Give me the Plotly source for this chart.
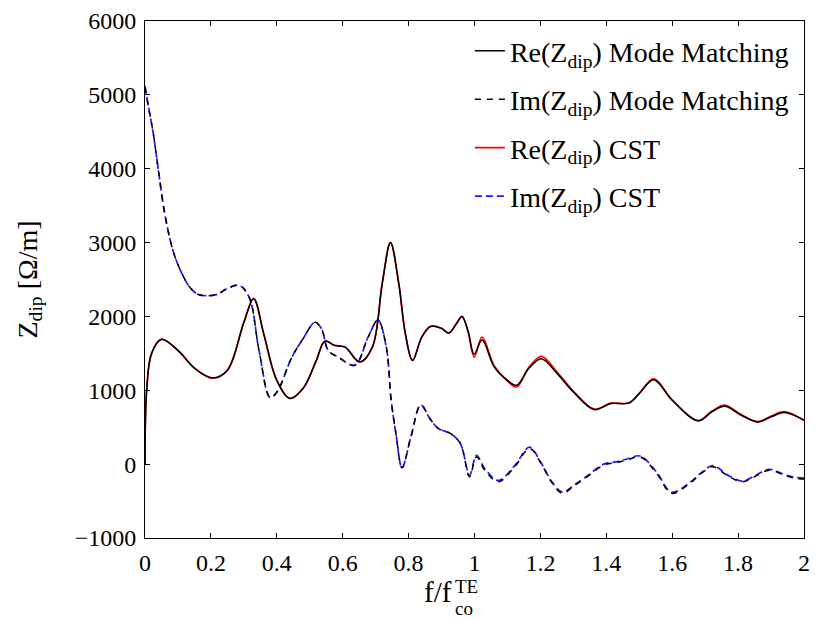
import plotly.graph_objects as go

# ---- data ----
x_re_mm = [0, 0.005, 0.02, 0.05, 0.1, 0.15, 0.205, 0.25, 0.3, 0.33, 0.36, 0.4, 0.44, 0.48, 0.52,
           0.546, 0.575, 0.607, 0.652, 0.69, 0.72, 0.745, 0.77, 0.79, 0.812, 0.84, 0.867, 0.9,
           0.922, 0.945, 0.962, 0.98, 0.999, 1.023, 1.06, 1.1, 1.128, 1.165, 1.203, 1.25, 1.3,
           1.363, 1.414, 1.469, 1.5, 1.544, 1.6, 1.679, 1.72, 1.759, 1.81, 1.86, 1.9, 1.94, 2.0]
y_re_mm = [0, 1000, 1500, 1690, 1540, 1300, 1166, 1270, 1920, 2240, 1770, 1135, 890, 1027, 1405,
           1666, 1608, 1585, 1383, 1585, 2446, 3000, 2450, 1770, 1405, 1720, 1865, 1838,
           1775, 1900, 2000, 1810, 1490, 1680, 1315, 1135, 1068, 1297, 1428, 1230, 977,
           739, 820, 829, 955, 1144, 865, 586, 707, 784, 662, 572, 640, 698, 595]

x_re_cst = x_re_mm
y_re_cst = [0, 1000, 1500, 1690, 1540, 1300, 1166, 1270, 1920, 2240, 1770, 1135, 890, 1027, 1405,
            1666, 1608, 1585, 1383, 1585, 2446, 3000, 2450, 1770, 1405, 1720, 1865, 1838,
            1775, 1900, 2000, 1800, 1450, 1720, 1330, 1125, 1045, 1310, 1460, 1250, 990,
            745, 825, 830, 960, 1155, 870, 590, 715, 800, 670, 575, 650, 710, 590]

x_im_mm = [0, 0.01, 0.025, 0.04, 0.06, 0.085, 0.11, 0.135, 0.16, 0.186, 0.22, 0.246, 0.286,
           0.316, 0.346, 0.38, 0.401, 0.446, 0.48, 0.516, 0.536, 0.556, 0.586, 0.637, 0.677,
           0.707, 0.732, 0.747, 0.762, 0.78, 0.807, 0.837, 0.867, 0.891, 0.927, 0.957, 0.985,
           1.006, 1.031, 1.072, 1.122, 1.167, 1.202, 1.235, 1.267, 1.3, 1.342, 1.392, 1.43,
           1.463, 1.503, 1.553, 1.598, 1.653, 1.69, 1.723, 1.773, 1.813, 1.85, 1.894, 1.94,
           1.974, 2.0]
y_im_mm = [5100, 4850, 4480, 4000, 3390, 2890, 2600, 2400, 2300, 2280, 2300, 2370, 2420,
           2260, 1540, 900, 980, 1450, 1700, 1920, 1830, 1540, 1450, 1340, 1720,
           1950, 1590, 870, 400, -50, 370, 800, 600, 480, 415, 280, -170,
           99, -81, -239, -36, 212, 9, -250, -396, -300, -171, -14, 20,
           54, 99, -126, -396, -261, -120, -36, -171, -239, -170, -81, -150,
           -193, -200]

x_im_cst = x_im_mm
y_im_cst = [5120, 4850, 4480, 4000, 3390, 2890, 2600, 2400, 2300, 2280, 2300, 2370, 2420,
            2260, 1540, 900, 980, 1450, 1700, 1920, 1830, 1540, 1450, 1340, 1720,
            1950, 1590, 870, 400, -50, 370, 800, 600, 480, 415, 280, -150,
            120, -60, -220, -20, 230, 20, -240, -380, -290, -160, 0, 30,
            70, 110, -110, -380, -250, -110, -20, -160, -230, -160, -70, -140,
            -180, -190]

names = ["Re(Z<sub>dip</sub>) Mode Matching", "Im(Z<sub>dip</sub>) Mode Matching",
         "Re(Z<sub>dip</sub>) CST", "Im(Z<sub>dip</sub>) CST"]

x_ticks = [0, 0.2, 0.4, 0.6, 0.8, 1, 1.2, 1.4, 1.6, 1.8, 2]
x_tick_labels = ["0", "0.2", "0.4", "0.6", "0.8", "1", "1.2", "1.4", "1.6", "1.8", "2"]
y_ticks = [-1000, 0, 1000, 2000, 3000, 4000, 5000, 6000]
y_tick_labels = ["\u22121000", "0", "1000", "2000", "3000", "4000", "5000", "6000"]

FONT = "Liberation Serif"
DASH = "7px,4px"

fig = go.Figure()
# CST drawn first (underneath), Mode Matching on top; legend order set via legendrank
fig.add_trace(go.Scatter(x=x_re_cst, y=y_re_cst, mode="lines", name=names[2],
                         line=dict(color="#ff0000", width=1.7, shape="spline"),
                         legendrank=3, legendgroup="g3"))
fig.add_trace(go.Scatter(x=x_im_cst, y=y_im_cst, mode="lines", name=names[3],
                         line=dict(color="#1a1aff", width=1.7, dash=DASH, shape="spline"),
                         legendrank=4, legendgroup="g4"))
fig.add_trace(go.Scatter(x=x_re_mm, y=y_re_mm, mode="lines", name=names[0],
                         line=dict(color="#000000", width=1.5, shape="spline"),
                         legendrank=1, legendgroup="g1"))
fig.add_trace(go.Scatter(x=x_im_mm, y=y_im_mm, mode="lines", name=names[1],
                         line=dict(color="#000000", width=1.5, dash="6px,6px", shape="spline"),
                         legendrank=2, legendgroup="g2"))

axis_common = dict(showline=True, linecolor="black", linewidth=1, mirror="ticks",
                   ticks="inside", ticklen=5, tickcolor="black", showgrid=False,
                   zeroline=False, tickfont=dict(family=FONT, size=24, color="black"))

fig.update_xaxes(range=[0, 2], tickvals=x_ticks, ticktext=x_tick_labels,
                 ticklabelstandoff=3, **axis_common)
fig.update_yaxes(range=[-1000, 6000], tickvals=y_ticks, ticktext=y_tick_labels,
                 ticklabelstandoff=3, **axis_common)

fig.update_layout(
    width=818, height=619,
    margin=dict(l=145, r=8, t=20, b=81),
    paper_bgcolor="white", plot_bgcolor="white",
    font=dict(family=FONT, size=24, color="black"),
    showlegend=True,
    legend=dict(x=0.493, y=0.99, xanchor="left", yanchor="top",
                bgcolor="rgba(0,0,0,0)", borderwidth=0,
                traceorder="grouped", tracegroupgap=9,
                font=dict(family=FONT, size=28, color="black")),
    annotations=[
        dict(text="Z<sub>dip</sub> [\u03a9/m]", xref="paper", yref="paper", x=0, y=0.5,
             xanchor="center", yanchor="middle", xshift=-116, textangle=-90, showarrow=False,
             font=dict(family=FONT, size=28, color="black")),
        dict(text="f/f", xref="paper", yref="paper", x=(441 - 145) / 665, y=0,
             xanchor="center", yanchor="middle", yshift=-54, showarrow=False,
             font=dict(family=FONT, size=29, color="black")),
        dict(text="TE", xref="paper", yref="paper", x=(456 - 145) / 665, y=0,
             xanchor="left", yanchor="middle", yshift=-48, showarrow=False,
             font=dict(family=FONT, size=19, color="black")),
        dict(text="co", xref="paper", yref="paper", x=(456 - 145) / 665, y=0,
             xanchor="left", yanchor="middle", yshift=-70, showarrow=False,
             font=dict(family=FONT, size=19, color="black")),
    ],
)

fig.write_html("out.html")
